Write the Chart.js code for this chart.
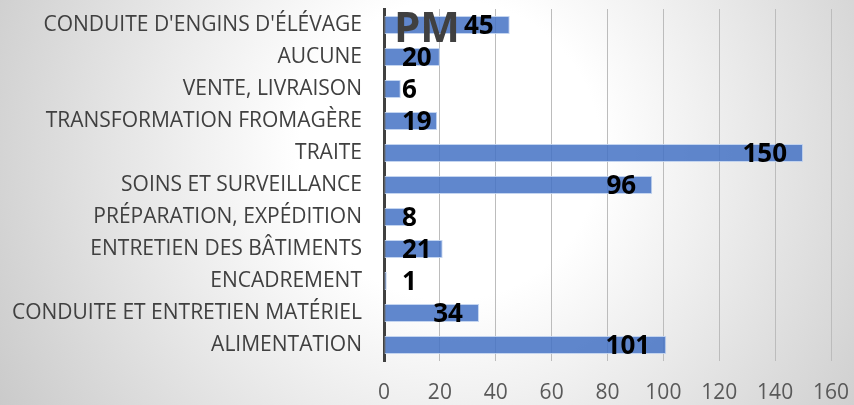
<!DOCTYPE html>
<html>
<head>
<meta charset="utf-8">
<script src="https://cdn.jsdelivr.net/npm/chart.js@4"></script>
<style>
  html, body { margin: 0; padding: 0; background: #fff; }
  #wrap { width: 854px; height: 405px; }
</style>
</head>
<body>
<div id="wrap"><canvas id="tachesChart" width="854" height="405"></canvas></div>
<script>
// Données
const categories = [
    "CONDUITE D'ENGINS D'ÉLÉVAGE",
    'AUCUNE',
    'VENTE, LIVRAISON',
    'TRANSFORMATION FROMAGÈRE',
    'TRAITE',
    'SOINS ET SURVEILLANCE',
    'PRÉPARATION, EXPÉDITION',
    'ENTRETIEN DES BÂTIMENTS',
    'ENCADREMENT',
    'CONDUITE ET ENTRETIEN MATÉRIEL',
    'ALIMENTATION'
];
const valeurs = [45, 20, 6, 19, 150, 96, 8, 21, 1, 34, 101];
const ticksX = [0, 20, 40, 60, 80, 100, 120, 140, 160];
const titre = 'PM';

// Fond en dégradé radial
const fondPlugin = {
    id: 'fond',
    beforeDraw(chart) {
        const ctx = chart.ctx;
        const g = ctx.createRadialGradient(450, 150, 150, 450, 150, 560);
        g.addColorStop(0, '#ffffff');
        g.addColorStop(1, '#c4c4c4');
        ctx.save();
        ctx.fillStyle = g;
        ctx.fillRect(0, 0, chart.width, chart.height);
        ctx.restore();
    }
};

// Étiquettes de valeurs + titre "PM"
const etiquettesPlugin = {
    id: 'etiquettes',
    afterDatasetsDraw(chart) {
        const ctx = chart.ctx;
        const xs = chart.scales.x;
        const meta = chart.getDatasetMeta(0);
        const x0 = xs.getPixelForValue(0);
        ctx.save();
        ctx.font = 'bold 26px "Open Sans", sans-serif';
        ctx.fillStyle = '#000';
        ctx.textAlign = 'right';
        ctx.textBaseline = 'middle';
        meta.data.forEach((bar, i) => {
            const txt = String(valeurs[i]);
            const w = ctx.measureText(txt).width;
            const droite = Math.max(xs.getPixelForValue(valeurs[i]) - 16, x0 + 18 + w);
            ctx.fillText(txt, droite, bar.y + 2);
        });
        ctx.font = 'bold 42px "Open Sans", sans-serif';
        ctx.fillStyle = '#404040';
        ctx.textAlign = 'left';
        ctx.textBaseline = 'alphabetic';
        ctx.fillText(titre, x0 + 10, 42);
        ctx.restore();
    }
};

const ctx = document.getElementById('tachesChart').getContext('2d');
new Chart(ctx, {
    type: 'bar',
    data: {
        labels: categories,
        datasets: [{
            data: valeurs,
            backgroundColor: 'rgba(68, 114, 196, 0.85)',
            borderColor: 'rgba(190, 208, 238, 0.9)',
            borderWidth: 1,
            borderSkipped: false,
            categoryPercentage: 1,
            barPercentage: 0.56
        }]
    },
    options: {
        indexAxis: 'y',
        responsive: false,
        animation: false,
        layout: { padding: { top: 9, right: 23, left: 0, bottom: 0 } },
        plugins: {
            legend: { display: false },
            tooltip: { enabled: false }
        },
        scales: {
            x: {
                min: 0,
                max: 160,
                afterBuildTicks(axis) {
                    axis.ticks = ticksX.map(v => ({ value: v }));
                },
                afterFit(axis) {
                    axis.height = 44;
                    axis.paddingLeft = 0;
                    axis.paddingRight = 0;
                },
                grid: { color: '#bcbcbc', lineWidth: 1, drawTicks: false },
                border: { display: false },
                ticks: {
                    color: '#595959',
                    font: { family: '"Open Sans", sans-serif', size: 21 },
                    padding: 19
                }
            },
            y: {
                afterFit(axis) {
                    axis.width = 384;
                    axis.paddingTop = 0;
                    axis.paddingBottom = 0;
                },
                grid: { display: false },
                border: { display: true, color: '#404040', width: 3 },
                ticks: {
                    color: '#404040',
                    font: { family: '"Open Sans", sans-serif', size: 21 },
                    padding: 14,
                    autoSkip: false
                }
            }
        }
    },
    plugins: [fondPlugin, etiquettesPlugin]
});
</script>
</body>
</html>
